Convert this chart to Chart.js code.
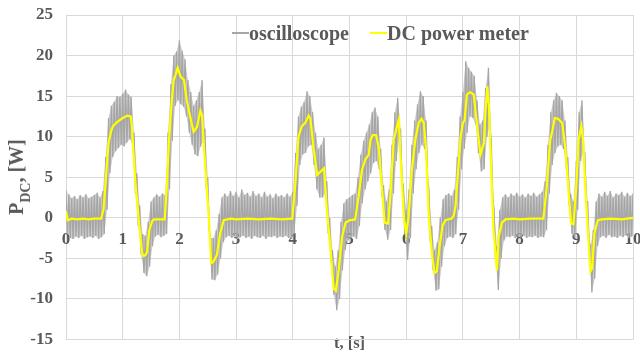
<!DOCTYPE html>
<html>
<head>
<meta charset="utf-8">
<script src="https://cdn.jsdelivr.net/npm/chart.js@4.4.0/dist/chart.umd.min.js"></script>
<style>
    body { margin: 0; background: #fff; }
    #wrap { position: relative; width: 640px; height: 356px; }
    .lg { position: absolute; top: 22.5px; padding-left: 17px; font: bold 20px "Liberation Serif", serif; line-height: 20px; color: #595959; white-space: nowrap; }
    .lg span { position: absolute; left: 0; top: 9px; width: 17px; height: 2px; }
    #ytitle { position: absolute; left: 16px; top: 177px; transform: translate(-50%, -50%) rotate(-90deg); font: bold 20px "Liberation Serif", serif; line-height: 20px; color: #595959; white-space: nowrap; }
    #ytitle sub { font-size: 14px; vertical-align: -7px; line-height: 0; }
</style>
</head>
<body>
<div id="wrap">
    <canvas id="myChart" width="640" height="356"></canvas>
    <div class="lg" style="left:232px"><span style="background:#a6a6a6"></span>oscilloscope</div>
    <div class="lg" style="left:370px"><span style="background:#ffff00;height:2.5px"></span>DC power meter</div>
    <div id="ytitle">P<sub>DC</sub>, [W]</div>
</div>
<script>
// DC power meter (t in s, P in W)
var meterTime = [0, 0.03, 0.1, 0.2, 0.3, 0.4, 0.5, 0.62, 0.66, 0.69, 0.72, 0.75, 0.8, 0.83, 0.9, 1.0,
    1.08, 1.14, 1.16, 1.19, 1.22, 1.28, 1.34, 1.37, 1.4, 1.43, 1.47, 1.52, 1.55, 1.65, 1.74,
    1.78, 1.81, 1.86, 1.9, 1.93, 1.97, 2.02, 2.08, 2.13, 2.19, 2.25, 2.31, 2.37, 2.4, 2.43,
    2.46, 2.52, 2.56, 2.6, 2.66, 2.72, 2.78, 2.9, 3.0, 3.2, 3.4, 3.6, 3.8, 3.99,
    4.05, 4.1, 4.16, 4.22, 4.28, 4.31, 4.37, 4.43, 4.49, 4.55, 4.6, 4.66, 4.72, 4.76, 4.81,
    4.87, 4.93, 5.0, 5.1, 5.16, 5.22, 5.28, 5.34, 5.37, 5.41, 5.47, 5.52, 5.57, 5.62, 5.68,
    5.72, 5.78, 5.82, 5.87, 5.9, 5.96, 6.0, 6.04, 6.1, 6.16, 6.22, 6.27, 6.31, 6.35, 6.4,
    6.46, 6.5, 6.54, 6.59, 6.64, 6.69, 6.8, 6.84, 6.87, 6.9, 6.96, 7.0, 7.03, 7.07, 7.13,
    7.19, 7.25, 7.31, 7.37, 7.4, 7.43, 7.46, 7.5, 7.54, 7.6, 7.63, 7.69, 7.75, 7.9, 8.0,
    8.2, 8.42, 8.48, 8.54, 8.58, 8.62, 8.68, 8.75, 8.81, 8.87, 8.91, 8.95, 9.0, 9.04, 9.09,
    9.12, 9.16, 9.21, 9.25, 9.28, 9.32, 9.38, 9.45, 9.6, 9.8, 10];
var meterPower = [0.8, -0.3, -0.1, -0.2, -0.1, -0.2, -0.1, -0.1, 1.0, 3.5, 6.5, 9.2, 10.8, 11.3, 11.8, 12.3,
    12.6, 12.5, 11.5, 8.0, 4.7, 0.0, -4.3, -4.7, -4.6, -4.2, -1.5, -0.4, -0.2, -0.2, -0.2,
    4.0, 8.8, 14.0, 17.0, 17.6, 18.5, 17.4, 17.0, 14.5, 12.5, 10.6, 11.2, 13.2, 12.6, 9.0,
    5.9, 0.0, -5.6, -5.4, -4.6, -1.9, -0.3, -0.1, -0.2, -0.1, -0.2, -0.1, -0.2, -0.1,
    4.7, 10.0, 11.3, 11.7, 12.6, 12.2, 8.4, 5.3, 5.7, 6.1, 1.0, -3.5, -8.7, -9.0, -6.4,
    -2.3, -0.6, -0.3, -0.2, 2.6, 5.9, 7.2, 7.8, 9.6, 10.2, 10.2, 8.4, 3.9, -0.6, -0.7,
    2.6, 9.6, 10.8, 12.1, 7.5, 0.0, -1.9, 0.0, 5.9, 9.6, 11.7, 12.2, 11.7, 8.4, 0.0,
    -4.8, -6.8, -6.6, -3.5, -1.0, -0.3, -0.1, 0.3, 1.5, 4.3, 10.0, 11.7, 12.0, 15.2, 15.5,
    15.2, 11.3, 7.8, 9.2, 13.3, 16.2, 13.7, 5.9, -1.5, -6.5, -2.3, -0.6, -0.2, -0.1, -0.2,
    -0.1, -0.1, 3.9, 9.6, 10.8, 12.3, 12.2, 11.7, 8.4, 2.6, -0.7, -0.8, 3.9, 9.6, 11.3,
    9.6, 3.5, -2.3, -6.6, -6.2, -1.9, -0.3, -0.2, -0.1, -0.2, 0.0];

// oscilloscope: upper and lower edge of the noisy trace, every 0.05 s from 0 to 10
var scopeStep = 0.05;
var scopeHigh = [3.4, 2.9, 2.4, 2.7, 2.3, 2.8, 2.5, 2.9, 2.4, 2.6, 2.8, 3.1, 2.5,
    3.3, 7.5, 12.3, 13.8, 14.3, 15.0, 14.9, 15.3, 15.8, 15.2, 14.9, 10.5,
    5.5, 1.5, -2.0, -2.2, -0.5, 2.0,
    2.5, 2.9, 2.6, 3.0, 2.8,
    10.5, 16.5, 20.0, 20.5, 21.9, 20.6, 19.5, 17.0, 15.5, 13.8, 14.5, 15.5, 17.0, 11.0, 5.0, -2.5, -2.5, -1.5, 0.5, 2.5,
    3.0, 2.6, 3.3, 2.7, 3.2, 2.5, 3.5, 2.8, 3.1, 2.6, 3.3, 2.7, 3.0, 2.5, 3.2, 2.6, 2.9, 2.4, 3.0, 2.6, 2.8, 2.5, 3.0, 2.6,
    3.2, 8.0, 12.5, 13.7, 14.3, 15.6, 15.0, 13.0, 10.5, 8.5, 9.0, 9.9, 4.5, 0.0, -4.0, -6.0, -4.0, -0.5, 1.8, 2.3,
    2.5, 2.8, 3.0, 5.0, 7.8, 9.5, 10.5, 11.5, 13.0, 13.6, 12.5, 8.5, 4.0, 2.0, 3.5, 9.0, 13.0, 14.8, 11.0, 4.0,
    1.0, 3.5, 9.0, 12.0, 14.0, 15.6, 15.0, 12.0, 3.5, -1.0, -4.0, -3.0, 0.0, 2.3, 2.8, 3.0, 2.7, 3.5, 7.5, 12.5,
    15.5, 19.3, 18.5, 18.0, 17.5, 14.5, 11.5, 12.0, 16.0, 18.5, 9.5, 1.0, -3.5, 1.0, 2.5,
    2.9, 2.5, 3.0, 2.7, 3.1, 2.6, 2.9, 2.5, 3.0, 2.7, 3.1, 2.6, 2.9, 3.2,
    4.5, 9.0, 13.0, 14.5, 15.4, 15.0, 14.5, 12.0, 7.5, 3.0, 2.0, 7.0, 13.0, 14.5, 8.0, 2.0, -3.5, -1.5, 2.0,
    3.0, 2.6, 3.2, 2.7, 3.3, 2.5, 3.0, 2.8, 3.2, 2.6, 3.1, 2.7, 3.0];
var scopeLow = [-2.0, -2.5, -2.6, -2.3, -2.5, -2.2, -2.6, -2.4, -2.3, -2.5, -2.2, -2.6, -2.4,
    -2.0, 1.0, 5.5, 7.5, 8.2, 8.6, 9.0, 8.8, 9.3, 9.7, 9.0, 3.0,
    -1.0, -4.5, -6.8, -7.2, -6.0, -3.5,
    -2.3, -2.1, -2.4, -2.2, -2.0,
    3.5, 9.5, 13.8, 14.5, 14.0, 13.7, 12.5, 10.5, 9.0, 7.8, 7.6, 8.8, 9.5, 3.5, -1.5, -7.6, -7.7, -7.0, -5.0, -3.0,
    -2.4, -2.2, -2.5, -2.3, -2.6, -2.4, -2.2, -2.5, -2.3, -2.6, -2.2, -2.4, -2.5, -2.2, -2.6, -2.3, -2.4, -2.2, -2.5, -2.3, -2.4, -2.2, -2.5, -2.6,
    -2.0, 1.5, 6.5, 7.8, 8.0, 8.8, 9.0, 6.5, 3.5, 2.5, 2.5, 3.0, -2.0, -5.5, -9.5, -11.4, -10.0, -6.5, -4.0, -2.8,
    -2.5, -2.3, -2.6, -1.0, 1.8, 3.5, 4.5, 5.5, 6.8, 7.0, 6.0, 2.5, -1.5, -2.7, -1.5, 3.0, 7.0, 9.5, 4.5, -2.0,
    -5.2, -2.5, 3.0, 6.0, 8.0, 9.0, 8.5, 5.0, -3.0, -6.5, -9.0, -8.8, -6.0, -3.5, -2.5, -2.3, -2.5, -2.0, 1.0, 6.0,
    8.5, 10.5, 12.5, 12.3, 11.5, 8.0, 5.7, 6.0, 10.0, 11.5, 2.5, -5.0, -8.9, -5.0, -2.8,
    -2.3, -2.4, -2.2, -2.5, -2.3, -2.4, -2.2, -2.5, -2.3, -2.4, -2.2, -2.5, -2.3, -2.4,
    -1.5, 3.0, 6.5, 8.0, 8.8, 9.0, 8.5, 6.0, 1.5, -2.0, -2.5, 1.0, 7.0, 8.0, 2.0, -4.0, -9.2, -7.5, -3.5,
    -2.4, -2.2, -2.5, -2.1, -2.4, -2.3, -2.5, -2.2, -2.4, -2.1, -2.5, -2.3, -2.2];

var xTicks = [0, 10, 1];      // min, max, step
var yTicks = [-15, 25, 5];

(function () {
    var textColor = '#595959';
    var gridColor = '#d9d9d9';
    var scopeColor = '#a6a6a6';
    var serif = '"Liberation Serif", "Times New Roman", serif';

    var meterPoints = [];
    for (var i = 0; i < meterTime.length; i++) {
        meterPoints.push({ x: meterTime[i], y: meterPower[i] });
    }

    // zigzag between the two edges so it looks like the sampled noise
    var scopePoints = [];
    var upperPoints = [];
    var lowerPoints = [];
    for (var j = 0; j < scopeHigh.length; j++) {
        var hi = { x: j * scopeStep, y: scopeHigh[j] };
        scopePoints.push(hi);
        upperPoints.push(hi);
        if (j < scopeLow.length) {
            var lo = { x: j * scopeStep + scopeStep / 2, y: scopeLow[j] };
            scopePoints.push(lo);
            lowerPoints.push(lo);
        }
    }

    var ctx = document.getElementById('myChart');
    var myChart = new Chart(ctx, {
        type: 'line',
        data: {
            datasets: [
                {
                    label: 'oscilloscope',
                    data: scopePoints,
                    borderColor: scopeColor,
                    borderWidth: 1.3,
                    pointRadius: 0,
                    tension: 0,
                    order: 2
                },
                {
                    label: 'DC power meter',
                    data: meterPoints,
                    borderColor: '#ffff00',
                    borderWidth: 2.25,
                    pointRadius: 0,
                    tension: 0,
                    order: 1
                },
                {
                    // light band under the noise
                    label: '',
                    data: upperPoints,
                    borderWidth: 0,
                    pointRadius: 0,
                    backgroundColor: 'rgba(166, 166, 166, 0.55)',
                    fill: 3,
                    order: 3
                },
                {
                    label: '',
                    data: lowerPoints,
                    borderWidth: 0,
                    pointRadius: 0,
                    fill: false,
                    order: 3
                }
            ]
        },
        options: {
            responsive: false,
            animation: false,
            layout: { padding: { left: 0, right: 7, top: 15, bottom: 0 } },
            plugins: {
                legend: { display: false },
                tooltip: { enabled: false }
            },
            scales: {
                x: {
                    type: 'linear',
                    min: xTicks[0],
                    max: xTicks[1],
                    position: { y: 0 },
                    grid: { color: gridColor, drawTicks: false },
                    border: { display: false },
                    ticks: {
                        stepSize: xTicks[2],
                        maxRotation: 0,
                        autoSkip: false,
                        padding: 11.5,
                        color: textColor,
                        font: { family: serif, size: 17, weight: 'bold' }
                    },
                    afterFit: function (scale) {
                        scale.paddingLeft = 0;
                        scale.paddingRight = 0;
                    }
                },
                x2: {
                    type: 'linear',
                    position: 'bottom',
                    min: xTicks[0],
                    max: xTicks[1],
                    grid: { display: false },
                    border: { display: false },
                    ticks: { display: false },
                    title: {
                        display: true,
                        text: 't, [s]',
                        color: textColor,
                        padding: { top: 0, bottom: 2.5 },
                        font: { family: serif, size: 16.5, weight: 'bold' }
                    },
                    afterFit: function (scale) {
                        scale.height = 16.5;
                        scale.paddingLeft = 0;
                        scale.paddingRight = 0;
                    }
                },
                y: {
                    min: yTicks[0],
                    max: yTicks[1],
                    grid: { color: gridColor, drawTicks: false },
                    border: { display: false },
                    ticks: {
                        stepSize: yTicks[2],
                        padding: 13,
                        color: textColor,
                        font: { family: serif, size: 17, weight: 'bold' }
                    },
                    afterFit: function (scale) {
                        scale.width = 66;
                        scale.paddingTop = 0;
                        scale.paddingBottom = 0;
                    }
                }
            }
        }
    });
}());
</script>
</body>
</html>
